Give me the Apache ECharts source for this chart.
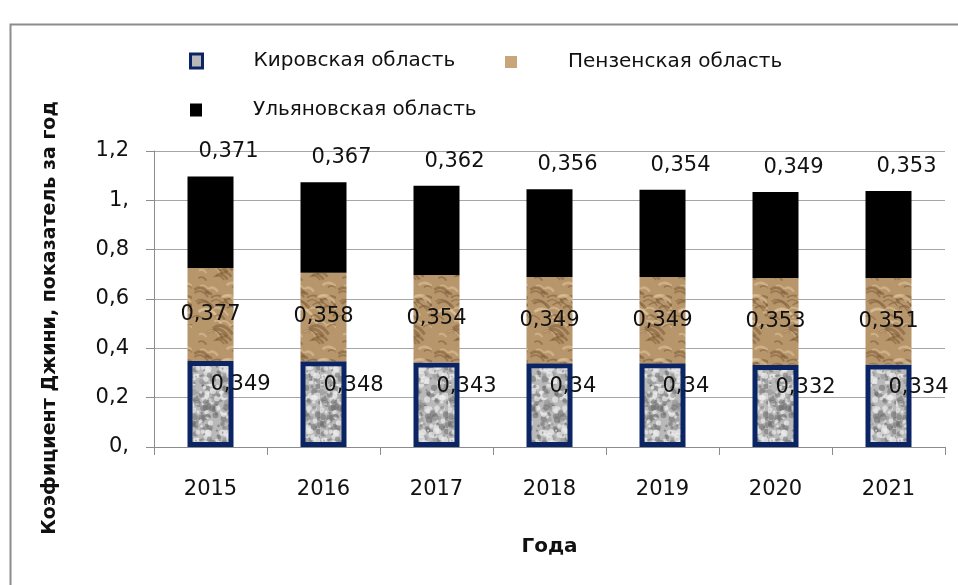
<!DOCTYPE html>
<html><head><meta charset="utf-8">
<script src="https://cdn.jsdelivr.net/npm/echarts@6/dist/echarts.min.js"></script>
<style>html,body{margin:0;padding:0;background:#fff}#c{width:958px;height:585px}</style>
</head><body><div id="c"></div>
<script>
var years = ['2015','2016','2017','2018','2019','2020','2021'];
var kirov = [0.349,0.348,0.343,0.34,0.34,0.332,0.334];
var penza = [0.377,0.358,0.354,0.349,0.349,0.353,0.351];
var ulyanovsk = [0.371,0.367,0.362,0.356,0.354,0.349,0.353];
var seriesNames = ['Кировская область','Пензенская область','Ульяновская область'];
var yTickLabels = ['0,','0,2','0,4','0,6','0,8','1,','1,2'];
var yTitle = 'Коэфициент Джини, показатель за год';
var xTitle = 'Года';

function hash(x,y,s){var v=Math.sin(x*12.9898+y*78.233+s*37.719)*43758.5453;return v-Math.floor(v);}
function granite(){
  var c=document.createElement('canvas');c.width=64;c.height=64;var g=c.getContext('2d');
  g.fillStyle='#b9b9b9';g.fillRect(0,0,64,64);
  for(var i=0;i<260;i++){
    var x=hash(i,1,3)*64,y=hash(i,2,5)*64,r=1+hash(i,3,7)*2.5,t=hash(i,4,9);
    g.fillStyle=t<0.45?'rgba(110,110,110,0.55)':(t<0.8?'rgba(235,235,235,0.7)':'rgba(150,150,150,0.6)');
    g.beginPath();g.arc(x,y,r,0,Math.PI*2);g.fill();
  }
  return c;
}
function wood(){
  var c=document.createElement('canvas');c.width=48;c.height=64;var g=c.getContext('2d');
  g.fillStyle='#b8966c';g.fillRect(0,0,48,64);
  for(var i=0;i<40;i++){
    var x=hash(i,5,1)*48,y=hash(i,6,2)*64,w=6+hash(i,7,3)*14,t=hash(i,8,4);
    g.strokeStyle=t<0.5?'rgba(120,88,52,0.5)':'rgba(225,200,160,0.55)';
    g.lineWidth=1+hash(i,9,5)*2;
    g.beginPath();g.moveTo(x,y);g.quadraticCurveTo(x+w/2,y-w*0.4,x+w,y+w*0.3);g.stroke();
  }
  return c;
}
var grayPat={image:granite(),repeat:'repeat'};
var tanPat={image:wood(),repeat:'repeat'};

var chart=echarts.init(document.getElementById('c'));
var lblFont={fontFamily:'DejaVu Sans',fontSize:21,color:'#111'};
function legendAt(item,left,top,w,h){
  return {data:[item],left:left,top:top,orient:'horizontal',itemWidth:w,itemHeight:h,icon:'rect',
    textStyle:{fontFamily:'DejaVu Sans',fontSize:20,color:'#111',padding:[0,0,0,46]},selectedMode:false};
}
function fmt(p){return String(p.value).replace('.',',');}
chart.setOption({
  backgroundColor:'#fff',
  animation:false,
  graphic:[
    {type:'rect',left:8,top:22,shape:{width:1000,height:620},style:{fill:'none',stroke:'#8c8c8c',lineWidth:2},z:-1},
    {type:'text',x:50,y:318,rotation:Math.PI/2,style:{text:yTitle,fontFamily:'DejaVu Sans',fontWeight:'bold',fontSize:19,fill:'#111',align:'center',verticalAlign:'middle'}}
  ],
  legend:[
    legendAt({name:seriesNames[0],itemStyle:{color:'#b9b9b9',borderColor:'#0b2463',borderWidth:3}},184,46,12,14),
    legendAt({name:seriesNames[1],itemStyle:{color:'#c9a67a',borderWidth:0}},500,47,12,12),
    legendAt({name:seriesNames[2]},185,95,12,13)
  ],
  grid:{left:154,right:13,top:151,bottom:138},
  xAxis:{type:'category',data:years,
    axisLine:{lineStyle:{color:'#8c8c8c',width:1}},
    axisTick:{show:true,length:8,lineStyle:{color:'#8c8c8c'}},
    axisLabel:{fontFamily:'DejaVu Sans',fontSize:21,color:'#111',margin:32},
    name:xTitle,nameLocation:'middle',nameGap:90,
    nameTextStyle:{fontFamily:'DejaVu Sans',fontWeight:'bold',fontSize:20,color:'#111'}},
  yAxis:{type:'value',min:0,max:1.2,interval:0.2,
    axisLine:{show:true,lineStyle:{color:'#8c8c8c'}},
    axisTick:{show:true,length:8,lineStyle:{color:'#8c8c8c'}},
    splitLine:{lineStyle:{color:'#a6a6a6'}},
    axisLabel:{fontFamily:'DejaVu Sans',fontSize:21,color:'#111',margin:25,
      formatter:function(v){return yTickLabels[Math.round(v/0.2)];}}},
  series:[
    {name:seriesNames[0],type:'bar',stack:'a',data:kirov,barWidth:46,
      itemStyle:{color:grayPat,borderColor:'#0b2463',borderWidth:5},
      label:{show:true,position:['50%','28%'],align:'left',verticalAlign:'middle',formatter:fmt,
        fontFamily:lblFont.fontFamily,fontSize:lblFont.fontSize,color:lblFont.color}},
    {name:seriesNames[1],type:'bar',stack:'a',data:penza,barWidth:46,
      itemStyle:{color:tanPat},
      label:{show:true,position:'inside',formatter:fmt,
        fontFamily:lblFont.fontFamily,fontSize:lblFont.fontSize,color:lblFont.color}},
    {name:seriesNames[2],type:'bar',stack:'a',data:ulyanovsk,barWidth:46,
      itemStyle:{color:'#000'},
      label:{show:true,position:'top',distance:14,offset:[18,0],formatter:fmt,
        fontFamily:lblFont.fontFamily,fontSize:lblFont.fontSize,color:lblFont.color}}
  ]
});
</script></body></html>
